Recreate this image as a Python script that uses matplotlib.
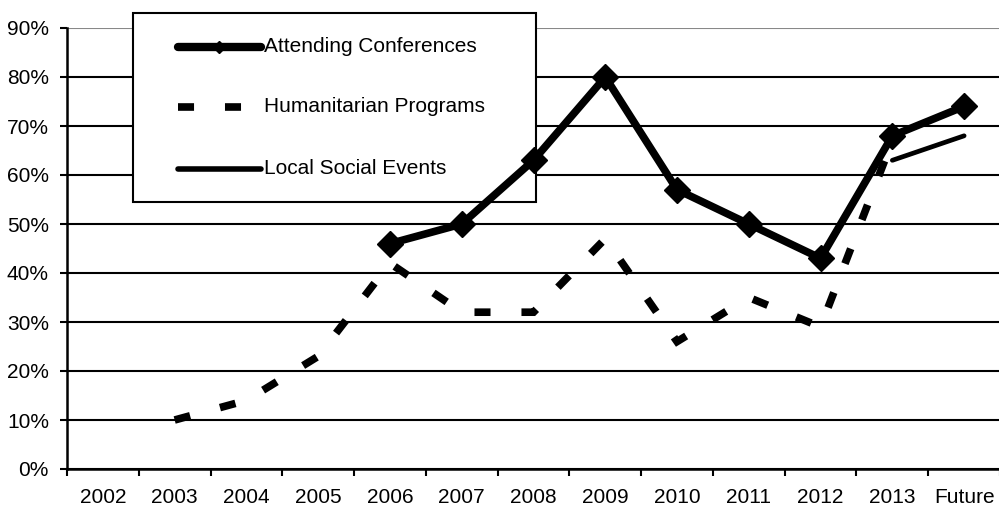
import numpy as np
import matplotlib
matplotlib.use("Agg")
import matplotlib.pyplot as plt
import matplotlib.transforms as mtransforms
from matplotlib.patches import Rectangle
from matplotlib.lines import Line2D

plt.rcParams['font.family'] = ['Liberation Sans', 'DejaVu Sans']

categories = ['2002', '2003', '2004', '2005', '2006', '2007', '2008',
              '2009', '2010', '2011', '2012', '2013', 'Future']
nan = np.nan
attending = [nan, nan, nan, nan, 46, 50, 63, 80, 57, 50, 43, 68, 74]
humanitarian = [nan, 10, 14, 23, 42, 32, 32, 47, 26, 35, 29, 67, nan]
local_social = [nan, nan, nan, nan, nan, nan, nan, nan, nan, nan, nan, 63, 68]
series_names = ['Attending Conferences', 'Humanitarian Programs', 'Local Social Events']
y_ticks = [0, 10, 20, 30, 40, 50, 60, 70, 80, 90]

W, H = 999, 512
fig = plt.figure(figsize=(W / 100, H / 100), dpi=100)
ax = fig.add_axes([67 / W, 1 - 469 / H, 933 / W, 441 / H])

x = np.arange(len(categories))

att_style = dict(color='black', lw=5.5, solid_joinstyle='miter', solid_capstyle='butt')
hum_style = dict(color='black', lw=5.5, dashes=(2.1, 4.05), dash_capstyle='butt',
                 dash_joinstyle='miter')
loc_style = dict(color='black', lw=3.4, solid_capstyle='round')

ax.plot(x, humanitarian, zorder=3, **hum_style)
ax.plot(x, local_social, zorder=4, **loc_style)
ax.plot(x, attending, marker='D', markersize=13, markerfacecolor='black',
        markeredgecolor='black', markeredgewidth=1, zorder=5, **att_style)

ax.set_xlim(-0.5, len(categories) - 0.5)
ax.set_ylim(0, 90)

# y axis
ax.set_yticks(y_ticks)
ax.set_yticklabels([f'{v}%' for v in y_ticks])
ax.tick_params(axis='y', direction='out', length=5, width=1.5, pad=8,
               labelsize=15, colors='black')
ax.yaxis.grid(True, color='black', lw=1.5)
gls = ax.get_ygridlines()
gls[-1].set_color('#888888')
ax.set_axisbelow(True)

# x axis: ticks at boundaries, labels at centers
ax.set_xticks(np.arange(len(categories) + 1) - 0.5)
ax.set_xticklabels([])
ax.set_xticks(x, minor=True)
ax.set_xticklabels(categories, minor=True)
ax.tick_params(axis='x', which='major', direction='out', length=5, width=1.5)
ax.tick_params(axis='x', which='minor', length=0, pad=13.5, labelsize=15)

for s in ['top', 'right']:
    ax.spines[s].set_visible(False)
for s in ['left', 'bottom']:
    ax.spines[s].set_linewidth(1.8)
    ax.spines[s].set_color('black')

# legend box: above gridlines, below data lines (pixel coords from top-left)
box_left, box_top, box_w, box_h = 133, 13, 403, 189
ltr = mtransforms.Affine2D().scale(1, -1).translate(box_left, H - box_top)
rect = Rectangle((0, 0), box_w, box_h, transform=ltr, facecolor='white',
                 edgecolor='black', lw=1.5, zorder=2, clip_on=False)
ax.add_patch(rect)
rows = [34, 94, 156]
hx0, hx1 = 44.5, 128
hmid = (hx0 + hx1) / 2
handles = [
    Line2D([hx0, hmid, hx1], [rows[0]] * 3, marker='D', markersize=6, markevery=[1],
           color='black', lw=6, solid_capstyle='round'),
    Line2D([hx0, hx1], [rows[1]] * 2, **hum_style),
    Line2D([hx0, hx1], [rows[2]] * 2, color='black', lw=4, solid_capstyle='round'),
]
for h in handles:
    h.set_transform(ltr)
    h.set_zorder(2.5)
    h.set_clip_on(False)
    ax.add_line(h)
for r, name in zip(rows, series_names):
    ax.text(131, r, name, va='center', ha='left', fontsize=15, color='black',
            transform=ltr, zorder=2.5, clip_on=False)

fig.savefig('out.png', dpi=100)
